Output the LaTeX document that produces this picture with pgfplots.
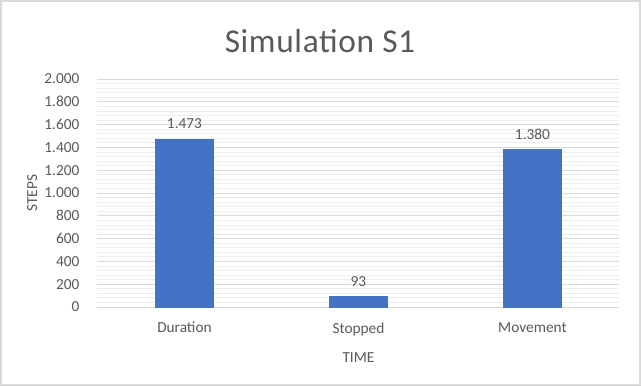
\documentclass[border=0pt]{standalone}
\usepackage{pgfplots}
\pgfplotsset{compat=1.18}
\usepackage{fontspec}
\setmainfont{Carlito}
\definecolor{barblue}{HTML}{4472C4}
\definecolor{txtgray}{HTML}{595959}
\definecolor{gridmaj}{HTML}{D9D9D9}
\definecolor{gridmin}{HTML}{EDEDED}
\begin{document}
\begin{tikzpicture}
\draw[draw=gridmaj, line width=1.2pt, fill=white] (0.6pt,0.6pt) rectangle (480.15pt,288.9pt);
\node[text=txtgray, font=\fontsize{25}{28}\selectfont\addfontfeature{LetterSpace=2}] at (240pt,259pt) {Simulation S1};
\begin{axis}[
  at={(73.1pt,59.25pt)}, anchor=south west,
  scale only axis, width=391.5pt, height=171pt,
  ymin=0, ymax=2000, ytick distance=200,
  minor y tick num=4,
  xmin=-0.5, xmax=2.5,
  xtick={0,1,2}, xticklabels={Duration,Stopped,Movement},
  ymajorgrids, yminorgrids,
  major grid style={gridmaj, line width=0.75pt},
  minor grid style={gridmin, line width=0.6pt},
  axis x line*=bottom, axis y line*=left,
  x axis line style={gridmaj, line width=0.75pt},
  y axis line style={draw=none},
  major tick length=0pt, minor tick length=0pt,
  tick style={draw=none},
  /pgf/number format/.cd, fixed, 1000 sep={.}, assume math mode=true,
  /pgfplots/.cd,
  ticklabel style={text=txtgray, font=\fontsize{11.5}{13}\selectfont},
  yticklabel style={xshift=-10pt},
  xticklabel style={yshift=-8pt},
  ylabel={STEPS}, xlabel={TIME},
  label style={text=txtgray, font=\fontsize{11.5}{13}\selectfont},
  ylabel style={at={(axis description cs:-0.125,0.5)}, anchor=center},
  xlabel style={yshift=-6pt},
  ybar, bar width=43.5pt,
  nodes near coords,
  nodes near coords style={text=txtgray, font=\fontsize{11.5}{13}\selectfont, yshift=4pt},
]
\addplot[fill=barblue, draw=barblue] coordinates {(0,1473) (1,93) (2,1380)};
\end{axis}
\end{tikzpicture}
\end{document}
